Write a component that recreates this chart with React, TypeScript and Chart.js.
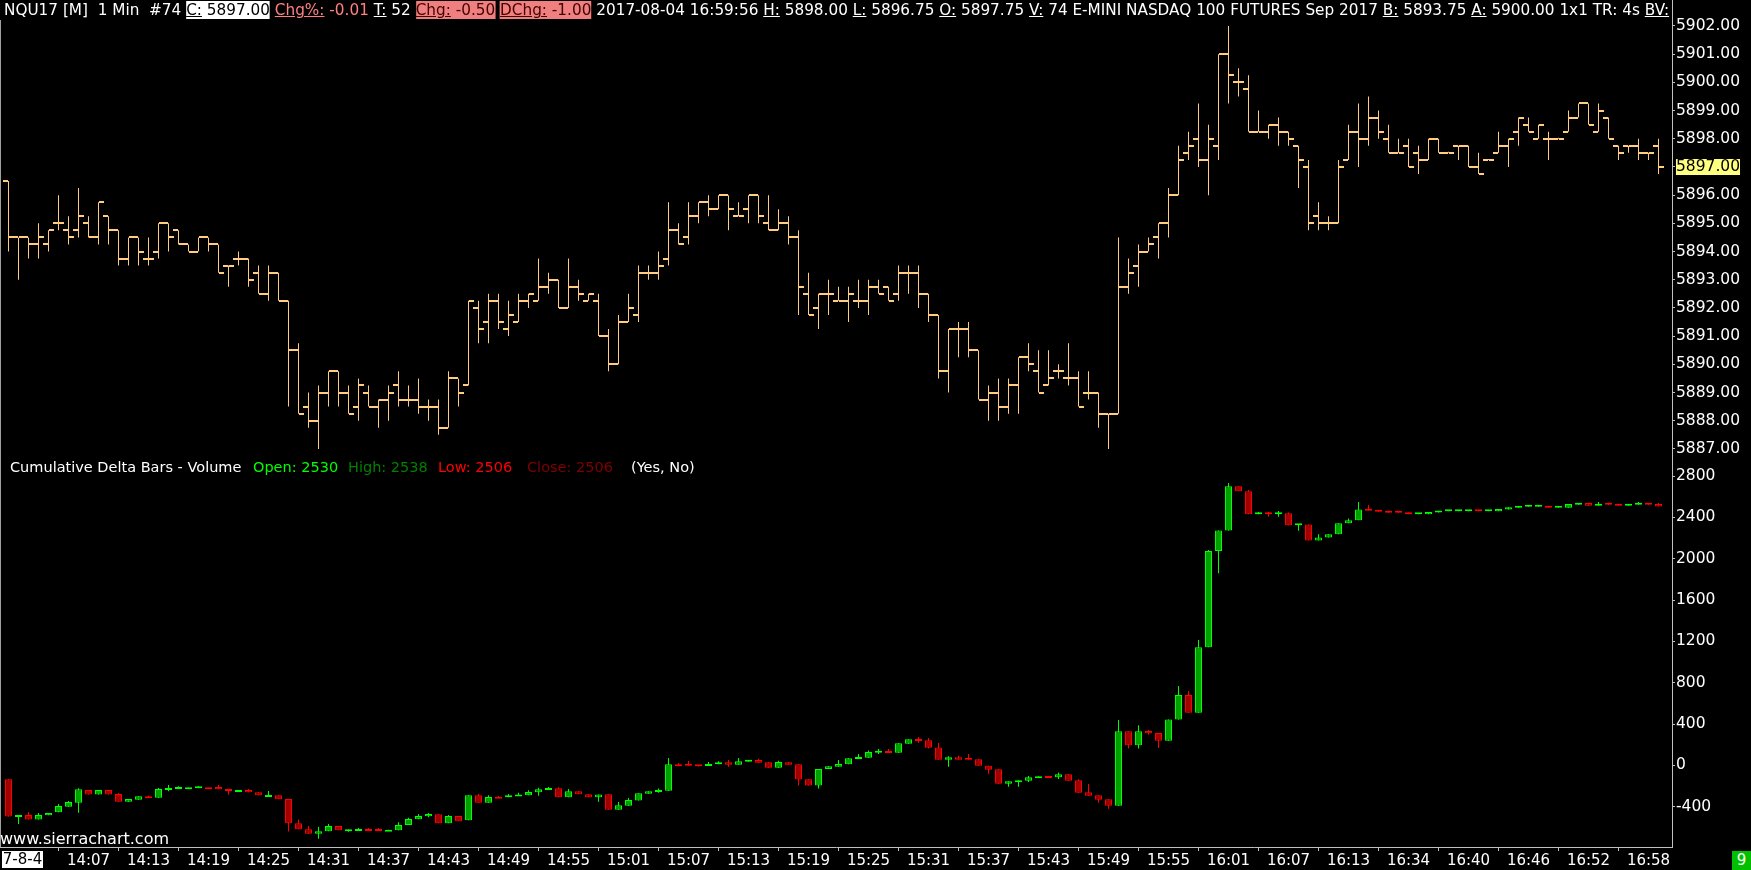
import React, { useEffect, useRef } from 'react';
import { Chart, registerables } from 'chart.js';

Chart.register(...registerables);

// ---------- categories (1-minute bars, two sessions) ----------
const SESSION_RANGES = [
  ['13:59', '16:14'],
  ['16:30', '16:59'],
];
function expandSession(range: string[]): string[] {
  const toMin = (t: string) => parseInt(t.slice(0, 2), 10) * 60 + parseInt(t.slice(3), 10);
  const out: string[] = [];
  for (let m = toMin(range[0]); m <= toMin(range[1]); m++) {
    out.push(String(Math.floor(m / 60)).padStart(2, '0') + ':' + String(m % 60).padStart(2, '0'));
  }
  return out;
}
const barTimes: string[] = SESSION_RANGES.flatMap(expandSession);

const xTickLabels = [
  '14:07', '14:13', '14:19', '14:25', '14:31', '14:37', '14:43', '14:49', '14:55',
  '15:01', '15:07', '15:13', '15:19', '15:25', '15:31', '15:37', '15:43', '15:49', '15:55',
  '16:01', '16:07', '16:13', '16:34', '16:40', '16:46', '16:52', '16:58',
];
const priceTickValues = [
  5887, 5888, 5889, 5890, 5891, 5892, 5893, 5894, 5895, 5896, 5897, 5898, 5899, 5900, 5901, 5902,
];
const deltaTickValues = [-400, 0, 400, 800, 1200, 1600, 2000, 2400, 2800];

// ---------- price OHLC (NQU17, 1 min) ----------
const priceOpen = [
  5896.5, 5894.5, 5894.5, 5894.25, 5894.25, 5895.0, 5894.75, 5894.75, 5895.0, 5894.5,
  5895.25, 5894.75, 5893.75, 5894.5, 5893.75, 5894.0, 5895.0, 5894.75, 5894.25, 5894.0,
  5894.5, 5894.25, 5893.5, 5893.75, 5893.75, 5893.25, 5892.5, 5893.25, 5892.25, 5890.5,
  5888.5, 5888.0, 5889.0, 5889.75, 5889.0, 5888.5, 5889.0, 5888.5, 5888.75, 5889.25,
  5888.75, 5888.75, 5888.5, 5888.5, 5887.75, 5889.5, 5889.25, 5892.0, 5891.5, 5892.25,
  5891.25, 5891.5, 5892.25, 5892.25, 5892.75, 5893.0, 5892.0, 5892.75, 5892.25, 5892.25,
  5891.0, 5890.0, 5891.5, 5891.75, 5893.25, 5893.25, 5893.75, 5894.75, 5894.5, 5895.25,
  5895.75, 5895.5, 5896.0, 5895.25, 5895.5, 5896.0, 5895.0, 5894.75, 5895.0, 5894.5,
  5892.5, 5892.0, 5892.5, 5892.25, 5892.25, 5892.25, 5892.25, 5892.75, 5892.75, 5892.5,
  5893.25, 5893.25, 5892.5, 5891.75, 5889.75, 5891.25, 5891.25, 5890.5, 5888.75, 5889.0,
  5888.5, 5889.25, 5890.25, 5889.75, 5889.25, 5889.75, 5889.5, 5889.5, 5889.0, 5889.0,
  5888.25, 5888.25, 5892.75, 5893.5, 5894.0, 5894.5, 5895.0, 5896.0, 5897.5, 5898.0,
  5897.25, 5897.75, 5901.0, 5900.0, 5899.75, 5898.25, 5898.25, 5898.5, 5898.25, 5897.75,
  5897.0, 5895.25, 5895.0, 5895.0, 5897.25, 5898.25, 5898.0, 5898.75, 5898.0, 5897.5,
  5897.75, 5897.5, 5897.25, 5898.0, 5897.5, 5897.75, 5897.75, 5897.0, 5897.25, 5897.5,
  5897.75, 5898.25, 5898.5, 5898.0, 5898.0, 5898.0, 5898.25, 5898.75, 5899.25, 5898.25,
  5898.75, 5897.75, 5897.75, 5897.75, 5897.5, 5897.75,
];
const priceHigh = [
  5896.5, 5894.5, 5894.5, 5895.0, 5894.75, 5896.0, 5895.25, 5896.25, 5895.25, 5895.75,
  5895.25, 5894.75, 5894.5, 5894.5, 5894.5, 5895.0, 5895.0, 5894.75, 5894.25, 5894.5,
  5894.5, 5894.25, 5893.5, 5894.0, 5893.75, 5893.5, 5893.5, 5893.25, 5892.25, 5890.75,
  5889.0, 5889.25, 5889.75, 5889.75, 5889.25, 5889.5, 5889.25, 5888.75, 5889.25, 5889.75,
  5889.25, 5889.5, 5888.75, 5888.75, 5889.75, 5889.5, 5892.25, 5892.25, 5892.5, 5892.5,
  5892.25, 5892.5, 5892.5, 5893.75, 5893.25, 5893.0, 5893.75, 5893.0, 5892.5, 5892.5,
  5891.25, 5891.75, 5892.5, 5893.5, 5893.5, 5894.0, 5895.75, 5895.0, 5895.75, 5895.75,
  5896.0, 5896.0, 5896.0, 5895.75, 5896.0, 5896.0, 5896.0, 5895.5, 5895.25, 5894.75,
  5893.25, 5892.5, 5893.0, 5892.75, 5892.75, 5893.0, 5893.0, 5893.0, 5892.75, 5893.5,
  5893.5, 5893.5, 5892.5, 5891.75, 5891.25, 5891.5, 5891.5, 5890.5, 5889.25, 5889.5,
  5889.5, 5890.25, 5890.75, 5890.5, 5890.5, 5890.0, 5890.75, 5889.75, 5889.75, 5889.0,
  5888.25, 5894.5, 5893.75, 5894.25, 5894.5, 5895.0, 5896.25, 5897.75, 5898.25, 5899.25,
  5898.5, 5901.0, 5902.0, 5900.5, 5900.25, 5899.0, 5898.5, 5898.75, 5898.25, 5897.75,
  5897.25, 5895.75, 5895.25, 5897.25, 5898.5, 5899.25, 5899.5, 5899.0, 5898.5, 5898.0,
  5898.0, 5897.75, 5898.0, 5898.0, 5897.5, 5897.75, 5897.75, 5897.5, 5897.25, 5898.25,
  5898.0, 5898.75, 5898.75, 5898.5, 5898.25, 5898.0, 5899.0, 5899.25, 5899.25, 5899.25,
  5898.75, 5897.75, 5897.75, 5898.0, 5897.5, 5898.0,
];
const priceLow = [
  5894.0, 5893.0, 5893.75, 5893.75, 5894.0, 5894.75, 5894.25, 5894.5, 5894.5, 5894.25,
  5894.25, 5893.5, 5893.5, 5893.5, 5893.5, 5893.75, 5894.0, 5894.25, 5894.0, 5894.0,
  5894.0, 5893.25, 5892.75, 5893.5, 5892.75, 5892.5, 5892.25, 5892.25, 5888.5, 5888.25,
  5887.75, 5887.0, 5888.5, 5888.5, 5888.25, 5888.0, 5888.5, 5887.75, 5888.0, 5888.5,
  5888.5, 5888.25, 5888.0, 5887.5, 5887.75, 5888.5, 5889.25, 5890.75, 5890.75, 5891.25,
  5891.0, 5891.5, 5892.0, 5892.25, 5892.5, 5892.0, 5892.0, 5892.25, 5892.25, 5891.0,
  5889.75, 5890.0, 5891.5, 5891.5, 5893.0, 5893.0, 5893.5, 5894.25, 5894.25, 5895.0,
  5895.25, 5895.5, 5894.75, 5895.25, 5895.0, 5895.0, 5894.75, 5894.75, 5894.25, 5891.75,
  5891.75, 5891.25, 5891.75, 5892.25, 5891.5, 5892.0, 5891.75, 5892.5, 5892.25, 5892.25,
  5892.5, 5892.0, 5891.5, 5889.5, 5889.0, 5890.25, 5890.25, 5888.75, 5888.0, 5888.0,
  5888.25, 5888.25, 5889.75, 5889.0, 5889.25, 5889.5, 5889.25, 5888.5, 5888.75, 5887.75,
  5887.0, 5888.25, 5892.5, 5892.75, 5894.0, 5893.75, 5894.5, 5896.0, 5897.25, 5897.0,
  5896.0, 5897.25, 5899.25, 5899.5, 5898.25, 5898.25, 5898.0, 5897.75, 5897.75, 5896.25,
  5894.75, 5894.75, 5894.75, 5895.0, 5897.25, 5897.0, 5897.75, 5898.0, 5897.5, 5897.5,
  5897.0, 5896.75, 5897.25, 5897.5, 5897.5, 5897.25, 5897.0, 5896.75, 5897.25, 5897.5,
  5897.0, 5897.75, 5898.25, 5898.0, 5897.25, 5898.0, 5898.25, 5898.75, 5898.5, 5898.25,
  5898.0, 5897.25, 5897.5, 5897.25, 5897.25, 5896.75,
];
const priceClose = [
  5894.5, 5894.5, 5894.25, 5894.5, 5894.75, 5895.0, 5894.5, 5895.25, 5894.5, 5895.75,
  5894.75, 5893.75, 5894.5, 5894.0, 5893.75, 5895.0, 5894.5, 5894.25, 5894.0, 5894.5,
  5894.25, 5893.25, 5893.5, 5893.75, 5893.0, 5892.5, 5893.25, 5892.25, 5890.5, 5888.25,
  5888.0, 5889.0, 5889.75, 5889.0, 5888.25, 5889.25, 5888.5, 5888.75, 5889.0, 5888.75,
  5888.75, 5888.5, 5888.5, 5887.75, 5889.5, 5889.0, 5892.25, 5891.25, 5892.25, 5891.5,
  5891.75, 5892.25, 5892.5, 5892.75, 5893.0, 5892.0, 5892.75, 5892.5, 5892.5, 5891.0,
  5890.0, 5891.5, 5892.0, 5893.25, 5893.25, 5893.5, 5894.75, 5894.25, 5895.25, 5895.75,
  5895.5, 5896.0, 5895.5, 5895.25, 5896.0, 5895.25, 5894.75, 5895.0, 5894.5, 5892.75,
  5891.75, 5892.5, 5892.5, 5892.25, 5892.5, 5892.25, 5892.75, 5892.5, 5892.25, 5893.25,
  5893.25, 5892.5, 5891.75, 5889.75, 5891.25, 5891.25, 5890.5, 5888.75, 5889.0, 5888.5,
  5889.25, 5890.25, 5890.0, 5889.0, 5889.5, 5889.75, 5889.5, 5888.5, 5889.0, 5888.25,
  5888.25, 5892.75, 5893.25, 5894.0, 5894.25, 5895.0, 5896.0, 5897.25, 5897.75, 5897.25,
  5898.0, 5901.0, 5900.25, 5900.0, 5898.25, 5898.25, 5898.5, 5898.25, 5898.0, 5897.25,
  5895.0, 5895.0, 5895.0, 5897.0, 5898.25, 5898.0, 5898.75, 5898.25, 5897.5, 5897.5,
  5897.0, 5897.25, 5898.0, 5897.5, 5897.5, 5897.75, 5897.0, 5896.75, 5897.25, 5897.75,
  5898.0, 5898.75, 5898.25, 5898.5, 5898.0, 5898.0, 5898.75, 5899.25, 5898.5, 5899.0,
  5898.0, 5897.5, 5897.75, 5897.5, 5897.5, 5897.0,
];

// ---------- cumulative delta candles ----------
const deltaOpen = [
  -135, -493, -480, -525, -483, -454, -400, -361, -238, -283,
  -238, -277, -351, -332, -300, -313, -232, -225, -215, -216,
  -211, -209, -229, -251, -238, -261, -290, -290, -325, -561,
  -619, -661, -638, -587, -632, -619, -616, -616, -632, -629,
  -577, -522, -493, -474, -561, -490, -532, -290, -361, -303,
  -309, -290, -290, -261, -235, -222, -309, -251, -280, -309,
  -280, -429, -390, -341, -274, -258, -245, 13, 3, 0,
  -6, 10, 29, 7, 36, 52, 29, -22, 29, 10,
  -135, -196, -35, -13, 10, 61, 74, 123, 139, 123,
  210, 255, 242, 174, 55, 78, 61, 58, 0, -38,
  -177, -161, -148, -119, -103, -116, -87, -145, -261, -290,
  -329, -390, 329, 194, 332, 313, 239, 445, 681, 510,
  1142, 2074, 2274, 2700, 2652, 2429, 2442, 2429, 2439, 2323,
  2332, 2177, 2206, 2236, 2342, 2371, 2477, 2468, 2458, 2452,
  2448, 2429, 2429, 2448, 2458, 2458, 2458, 2465, 2458, 2458,
  2477, 2494, 2503, 2503, 2510, 2494, 2494, 2523, 2539, 2513,
  2532, 2529, 2513, 2523, 2539, 2530,
];
const deltaHigh = [
  -135, -480, -451, -461, -461, -374, -345, -222, -238, -238,
  -238, -267, -325, -300, -293, -219, -190, -203, -212, -203,
  -211, -190, -229, -238, -229, -261, -248, -290, -325, -525,
  -587, -593, -567, -587, -619, -606, -606, -606, -622, -551,
  -506, -471, -461, -474, -480, -490, -290, -277, -290, -296,
  -277, -264, -242, -216, -209, -212, -229, -251, -280, -283,
  -280, -354, -316, -271, -251, -225, 71, 23, 42, 0,
  32, 39, 52, 71, 52, 65, 29, 45, 29, 10,
  -135, -35, -9, 52, 68, 110, 145, 158, 158, 213,
  252, 275, 265, 216, 87, 94, 110, 58, 0, -38,
  -154, -145, -103, -106, -103, -68, -87, -135, -180, -290,
  -329, 439, 329, 387, 342, 313, 445, 768, 720, 1213,
  2084, 2274, 2732, 2700, 2665, 2452, 2452, 2461, 2448, 2336,
  2332, 2236, 2236, 2342, 2390, 2548, 2519, 2468, 2458, 2452,
  2448, 2435, 2452, 2461, 2461, 2461, 2471, 2471, 2461, 2481,
  2497, 2510, 2510, 2519, 2510, 2503, 2529, 2539, 2539, 2548,
  2542, 2529, 2529, 2548, 2539, 2538,
];
const deltaLow = [
  -496, -567, -525, -525, -483, -454, -400, -458, -283, -283,
  -283, -351, -351, -332, -313, -313, -251, -225, -215, -216,
  -215, -232, -284, -251, -261, -290, -290, -329, -641, -619,
  -661, -709, -638, -629, -642, -619, -622, -635, -632, -629,
  -577, -522, -503, -561, -561, -541, -532, -361, -361, -313,
  -309, -290, -290, -293, -235, -309, -309, -280, -309, -351,
  -429, -429, -390, -341, -274, -264, -245, 0, -3, -12,
  -6, 10, -13, 7, 36, 26, -22, -22, 7, -196,
  -196, -225, -35, -13, 10, 61, 74, 110, 120, 123,
  210, 220, 162, 55, -13, 55, 55, -3, -80, -177,
  -206, -206, -161, -119, -119, -132, -148, -264, -293, -361,
  -419, -390, 162, 162, 297, 168, 239, 445, 510, 510,
  1142, 1858, 2274, 2652, 2429, 2429, 2406, 2406, 2323, 2271,
  2177, 2177, 2206, 2236, 2342, 2371, 2465, 2455, 2445, 2445,
  2429, 2429, 2429, 2448, 2458, 2458, 2458, 2458, 2458, 2458,
  2477, 2494, 2503, 2503, 2494, 2494, 2494, 2523, 2513, 2513,
  2523, 2513, 2513, 2523, 2523, 2506,
];
const deltaClose = [
  -496, -480, -525, -480, -461, -393, -354, -232, -283, -238,
  -283, -351, -325, -300, -313, -229, -219, -209, -212, -203,
  -215, -232, -248, -238, -261, -290, -287, -329, -561, -619,
  -661, -638, -587, -629, -619, -616, -622, -635, -622, -577,
  -519, -490, -471, -561, -490, -541, -290, -361, -306, -313,
  -290, -283, -258, -232, -219, -309, -251, -280, -309, -283,
  -429, -387, -335, -271, -251, -238, 10, 0, -3, -6,
  10, 29, 7, 39, 52, 26, -22, 33, 7, -138,
  -196, -35, -9, 13, 68, 78, 129, 142, 120, 213,
  252, 236, 171, 55, 78, 55, 55, -3, -42, -177,
  -154, -145, -116, -106, -119, -87, -148, -264, -293, -332,
  -390, 329, 194, 329, 310, 239, 445, 681, 510, 1142,
  2074, 2274, 2700, 2652, 2429, 2442, 2429, 2442, 2323, 2336,
  2177, 2206, 2236, 2342, 2371, 2477, 2465, 2455, 2445, 2445,
  2429, 2435, 2452, 2461, 2461, 2461, 2465, 2458, 2461, 2481,
  2497, 2510, 2510, 2519, 2494, 2503, 2529, 2539, 2513, 2532,
  2523, 2513, 2529, 2539, 2523, 2506,
];

// ---------- header texts ----------
const headerSegments = [
  { label: '', text: 'NQU17 [M]', gap: '  ' },
  { label: '', text: '1 Min', gap: '  ' },
  { label: '', text: '#74', gap: ' ' },
  { label: 'C:', text: ' 5897.00', bg: '#ffffff', color: '#000000', gap: ' ' },
  { label: 'Chg%:', text: ' -0.01', color: '#ff8080', gap: ' ' },
  { label: 'T:', text: ' 52', gap: ' ' },
  { label: 'Chg:', text: ' -0.50', bg: '#f08080', color: '#400000', gap: ' ' },
  { label: 'DChg:', text: ' -1.00', bg: '#f08080', color: '#400000', gap: ' ' },
  { label: '', text: '2017-08-04 16:59:56', gap: ' ' },
  { label: 'H:', text: ' 5898.00', gap: ' ' },
  { label: 'L:', text: ' 5896.75', gap: ' ' },
  { label: 'O:', text: ' 5897.75', gap: ' ' },
  { label: 'V:', text: ' 74', gap: ' ' },
  { label: '', text: 'E-MINI NASDAQ 100 FUTURES Sep 2017', gap: ' ' },
  { label: 'B:', text: ' 5893.75', gap: ' ' },
  { label: 'A:', text: ' 5900.00', gap: ' ' },
  { label: '', text: '1x1', gap: ' ' },
  { label: '', text: 'TR: 4s', gap: ' ' },
  { label: 'BV:', text: '', gap: '' },
];

const OHLC_COLOR = 'rgb(255, 204, 128)';
const UP_LINE = '#00ff00';
const UP_FILL = '#00a000';
const DOWN_LINE = '#ff0000';
const DOWN_FILL = '#a00000';
const AXIS_COLOR = '#c0c0c0';
const FONT = 'DejaVu Sans';

function tickImage(side: 'left' | 'right') {
  const c = document.createElement('canvas');
  c.width = 11;
  c.height = 2;
  const g = c.getContext('2d')!;
  g.fillStyle = OHLC_COLOR;
  g.fillRect(side === 'left' ? 0 : 6, 0, 5, 2);
  return c;
}

const lastPricePlugin = {
  id: 'lastPriceBox',
  afterDraw(chart: any) {
    const s = chart.scales.yPrice;
    const v = priceClose[priceClose.length - 1];
    const y = s.getPixelForValue(v);
    const ctx = chart.ctx;
    ctx.save();
    ctx.fillStyle = '#ffff80';
    const x = s.left + 4;
    ctx.fillRect(x, Math.round(y) - 8, 64, 16);
    ctx.fillStyle = '#000000';
    ctx.font = `15.5px "${FONT}"`;
    ctx.textBaseline = 'middle';
    ctx.textAlign = 'left';
    ctx.fillText(v.toFixed(2), x, y);
    ctx.restore();
  },
};

export default function App() {
  const canvasRef = useRef<HTMLCanvasElement | null>(null);
  const headerRef = useRef<HTMLDivElement | null>(null);

  useEffect(() => {
    document.body.style.margin = '0';
    document.body.style.background = '#000';
    const hdr = headerRef.current;
    if (hdr) {
      hdr.style.transform = 'none';
      const w = hdr.scrollWidth;
      if (w > 0) hdr.style.transform = `scaleX(${1665 / w})`;
    }
    const canvas = canvasRef.current;
    if (!canvas) return;

    const idx = barTimes.map((_, i) => i);
    const deltaUp = idx.map((i) => deltaClose[i] >= deltaOpen[i]);

    const chart = new Chart(canvas, {
      type: 'bar',
      data: {
        datasets: [
          {
            type: 'scatter',
            label: 'open',
            xAxisID: 'x',
            yAxisID: 'yPrice',
            data: idx.map((i) => ({ x: i, y: priceOpen[i] })),
            pointStyle: tickImage('left'),
            pointRadius: 5,
            order: 1,
          } as any,
          {
            type: 'scatter',
            label: 'close',
            xAxisID: 'x',
            yAxisID: 'yPrice',
            data: idx.map((i) => ({ x: i, y: priceClose[i] })),
            pointStyle: tickImage('right'),
            pointRadius: 5,
            order: 2,
          } as any,
          {
            type: 'bar',
            label: 'price range',
            xAxisID: 'x',
            yAxisID: 'yPrice',
            data: idx.map((i) => ({ x: i, y: [priceLow[i], priceHigh[i]] })),
            backgroundColor: OHLC_COLOR,
            borderWidth: 0,
            barThickness: 1,
            grouped: false,
            inflateAmount: 0,
            minBarLength: 1,
            order: 3,
          } as any,
          {
            type: 'bar',
            label: 'delta body',
            xAxisID: 'x',
            yAxisID: 'yDelta',
            data: idx.map((i) => ({ x: i, y: [deltaOpen[i], deltaClose[i]] })),
            backgroundColor: deltaUp.map((u) => (u ? UP_FILL : DOWN_FILL)),
            borderColor: deltaUp.map((u) => (u ? UP_LINE : DOWN_LINE)),
            borderWidth: 1,
            borderSkipped: false,
            barThickness: 7,
            grouped: false,
            inflateAmount: 0,
            minBarLength: 2,
            order: 4,
          } as any,
          {
            type: 'bar',
            label: 'delta wick',
            xAxisID: 'x',
            yAxisID: 'yDelta',
            data: idx.map((i) => ({ x: i, y: [deltaLow[i], deltaHigh[i]] })),
            backgroundColor: deltaUp.map((u) => (u ? UP_LINE : DOWN_LINE)),
            borderWidth: 0,
            barThickness: 1,
            grouped: false,
            inflateAmount: 0,
            order: 5,
          } as any,
        ],
      },
      options: {
        responsive: false,
        maintainAspectRatio: false,
        devicePixelRatio: 1,
        animation: false,
        events: [],
        layout: { padding: 0, autoPadding: false },
        plugins: { legend: { display: false }, tooltip: { enabled: false }, title: { display: false } },
        scales: {
          x: {
            type: 'linear',
            min: -0.85,
            max: 166.35,
            offset: false,
            afterFit: (s: any) => {
              s.height = 23;
              s.paddingLeft = 0;
              s.paddingRight = 0;
            },
            afterBuildTicks: (s: any) => {
              s.ticks = xTickLabels.map((t) => ({ value: barTimes.indexOf(t) }));
            },
            ticks: {
              autoSkip: false,
              maxRotation: 0,
              minRotation: 0,
              padding: 1,
              color: '#ffffff',
              font: { family: FONT, size: 15 },
              callback: (v: any) => barTimes[v] ?? '',
            },
            grid: { display: true, drawOnChartArea: false, drawTicks: true, tickLength: 4, color: AXIS_COLOR },
            border: { display: true, color: AXIS_COLOR },
          },
          yPrice: {
            type: 'linear',
            position: 'right',
            stack: 'panels',
            stackWeight: 463,
            min: 5886.5,
            max: 5902.92,
            afterFit: (s: any) => {
              s.width = 79;
              s.paddingTop = 0;
              s.paddingBottom = 0;
            },
            afterBuildTicks: (s: any) => {
              s.ticks = priceTickValues.map((v) => ({ value: v }));
            },
            ticks: {
              autoSkip: false,
              padding: 1,
              color: '#ffffff',
              font: { family: FONT, size: 15.5 },
              callback: (v: any) => Number(v).toFixed(2),
            },
            grid: { display: true, drawOnChartArea: false, drawTicks: true, tickLength: 3, color: AXIS_COLOR },
            border: { display: true, color: AXIS_COLOR },
          },
          yDelta: {
            type: 'linear',
            position: 'right',
            stack: 'panels',
            stackWeight: 384,
            min: -790,
            max: 2926,
            afterFit: (s: any) => {
              s.width = 79;
              s.paddingTop = 0;
              s.paddingBottom = 0;
            },
            afterBuildTicks: (s: any) => {
              s.ticks = deltaTickValues.map((v) => ({ value: v }));
            },
            ticks: {
              autoSkip: false,
              padding: 1,
              color: '#ffffff',
              font: { family: FONT, size: 15.5 },
              callback: (v: any) => String(v),
            },
            grid: { display: true, drawOnChartArea: false, drawTicks: true, tickLength: 3, color: AXIS_COLOR },
            border: { display: true, color: AXIS_COLOR },
          },
        },
      } as any,
      plugins: [lastPricePlugin],
    });
    return () => chart.destroy();
  }, []);

  const last = deltaOpen.length - 1;
  const legendItems = [
    { left: 10, text: 'Cumulative Delta Bars - Volume', color: '#ffffff' },
    { left: 253, text: `Open: ${deltaOpen[last]}`, color: '#00ff00' },
    { left: 348, text: `High: ${deltaHigh[last]}`, color: '#008000' },
    { left: 438, text: `Low: ${deltaLow[last]}`, color: '#ff0000' },
    { left: 527, text: `Close: ${deltaClose[last]}`, color: '#800000' },
    { left: 631, text: '(Yes, No)', color: '#ffffff' },
  ];

  return (
    <div
      style={{
        position: 'relative',
        width: 1751,
        height: 870,
        background: '#000',
        overflow: 'hidden',
        fontFamily: FONT,
      }}
    >
      <canvas ref={canvasRef} width={1751} height={870} style={{ position: 'absolute', left: 0, top: 0, display: 'block' }} />
      <div style={{ position: 'absolute', left: 0, top: 20, width: 1, height: 827, background: '#a0a0a0' }} />
      <div
        ref={headerRef}
        style={{
          position: 'absolute',
          left: 4,
          top: 1,
          fontSize: 15,
          lineHeight: '18px',
          whiteSpace: 'pre',
          color: '#ffffff',
          transformOrigin: '0 0',
          display: 'inline-block',
        }}
      >
        {headerSegments.map((s, i) => (
          <React.Fragment key={i}>
            <span style={{ color: s.color || '#ffffff', background: s.bg || 'transparent' }}>
              {s.label ? <span style={{ textDecoration: 'underline' }}>{s.label}</span> : null}
              {s.text}
            </span>
            {s.gap}
          </React.Fragment>
        ))}
      </div>
      {legendItems.map((s, i) => (
        <div
          key={i}
          style={{
            position: 'absolute',
            left: s.left,
            top: 459,
            fontSize: 14.5,
            lineHeight: '17px',
            whiteSpace: 'pre',
            color: s.color,
          }}
        >
          {s.text}
        </div>
      ))}
      <div style={{ position: 'absolute', left: 0, top: 829, fontSize: 16, lineHeight: '19px', color: '#ffffff' }}>
        www.sierrachart.com
      </div>
      <div
        style={{
          position: 'absolute',
          left: 2,
          top: 851,
          width: 41,
          height: 17,
          background: '#ffffff',
          color: '#000000',
          fontSize: 15,
          lineHeight: '17px',
          textAlign: 'center',
        }}
      >
        7-8-4
      </div>
      <div
        style={{
          position: 'absolute',
          left: 1732,
          top: 851,
          width: 19,
          height: 19,
          background: '#00c000',
          color: '#ffffff',
          fontSize: 15,
          lineHeight: '19px',
          textAlign: 'center',
        }}
      >
        9
      </div>
    </div>
  );
}
